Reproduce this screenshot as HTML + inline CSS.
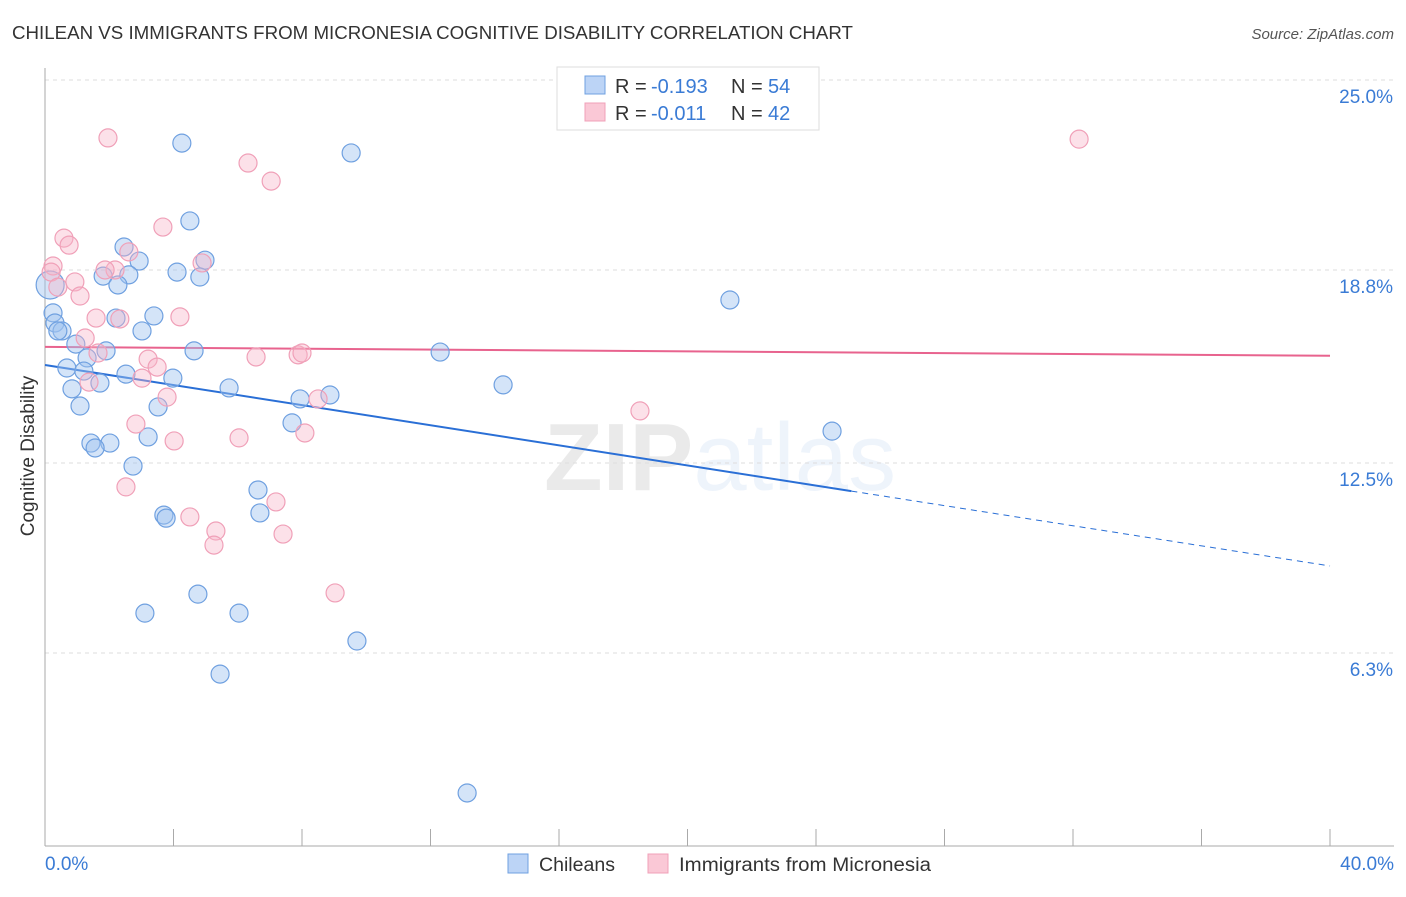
<!DOCTYPE html>
<html><head><meta charset="utf-8"><style>
body{margin:0;background:#fff;font-family:"Liberation Sans",sans-serif;}
svg text{font-family:"Liberation Sans",sans-serif;}
</style></head><body>
<svg width="1406" height="892" xmlns="http://www.w3.org/2000/svg">
<text x="12" y="39" font-size="18" fill="#333" textLength="841" lengthAdjust="spacingAndGlyphs">CHILEAN VS IMMIGRANTS FROM MICRONESIA COGNITIVE DISABILITY CORRELATION CHART</text>
<text x="1394" y="39" font-size="15" fill="#555" text-anchor="end" font-style="italic">Source: ZipAtlas.com</text>
<text x="720" y="490" font-size="96" fill="#000" opacity="0.08" text-anchor="middle" font-weight="bold">ZIP<tspan font-weight="normal" fill="#3a7bd5">atlas</tspan></text>
<g id="grid"></g>
<g id="axes"></g>
<g id="trend"></g>
<g id="points"></g>
<text x="34" y="456" font-size="19" fill="#333" text-anchor="middle" transform="rotate(-90 34 456)">Cognitive Disability</text>
<text x="45" y="870" font-size="19" fill="#3a7bd5">0.0%</text>
<text x="1394" y="870" font-size="19" fill="#3a7bd5" text-anchor="end">40.0%</text>
<g>
<rect x="557" y="67" width="262" height="63" fill="#fff" stroke="#ddd"/>
<rect x="585" y="76" width="20" height="18" fill="#bcd4f6" stroke="#6fa0e0"/>
<rect x="585" y="103" width="20" height="18" fill="#fac8d6" stroke="#f0a0b8"/>
<text y="93" font-size="20" fill="#333"><tspan x="615">R =</tspan><tspan x="651" fill="#3a7bd5">-0.193</tspan><tspan x="731">N =</tspan><tspan x="768" fill="#3a7bd5">54</tspan></text>
<text y="120" font-size="20" fill="#333"><tspan x="615">R =</tspan><tspan x="651" fill="#3a7bd5">-0.011</tspan><tspan x="731">N =</tspan><tspan x="768" fill="#3a7bd5">42</tspan></text>
</g>
<g>
<rect x="508" y="854" width="20" height="19" fill="#bcd4f6" stroke="#6fa0e0"/>
<text x="539" y="871" font-size="19" fill="#333" textLength="76" lengthAdjust="spacingAndGlyphs">Chileans</text>
<rect x="648" y="854" width="20" height="19" fill="#fac8d6" stroke="#f0a0b8"/>
<text x="679" y="871" font-size="19" fill="#333" textLength="252" lengthAdjust="spacingAndGlyphs">Immigrants from Micronesia</text>
</g>
</svg>
<script>
const yTicks=[25.0,18.8,12.5,6.3];
const yTickLabels=["25.0%","18.8%","12.5%","6.3%"];
const xTicks=[0,4,8,12,16,20,24,28,32,36,40];
const blueX=[4.26,9.53,4.51,2.46,2.93,4.98,4.11,4.82,1.81,2.61,2.27,0.16,0.25,0.31,0.53,0.40,0.96,1.90,4.64,12.30,21.32,3.39,2.21,3.02,1.31,0.68,1.21,2.52,3.98,1.71,0.84,5.73,14.26,7.94,8.87,1.09,3.52,7.69,3.21,24.50,1.43,2.02,1.56,2.74,6.63,3.70,3.77,6.69,4.76,3.11,6.04,9.71,5.45,13.14];
const blueY=[22.94,22.62,20.40,19.55,19.09,19.12,18.73,18.57,18.60,18.64,18.31,18.31,17.40,17.07,16.81,16.81,16.38,16.16,16.16,16.12,17.82,17.30,17.23,16.81,15.93,15.60,15.50,15.40,15.27,15.11,14.92,14.95,15.05,14.59,14.72,14.36,14.33,13.81,13.35,13.54,13.15,13.15,12.99,12.40,11.62,10.80,10.70,10.87,8.22,7.60,7.60,6.69,5.61,1.73];
const pinkX=[1.96,32.19,6.32,7.04,3.67,0.59,0.75,2.61,0.25,0.19,2.18,1.87,0.93,0.40,1.09,4.89,1.59,4.20,2.33,1.25,1.65,3.21,6.57,7.88,8.00,3.49,3.02,1.37,3.80,8.50,18.52,2.83,4.02,6.04,8.09,2.52,7.19,4.51,5.32,5.26,7.41,9.03];
const pinkY=[23.11,23.07,22.29,21.70,20.20,19.84,19.61,19.39,18.93,18.73,18.80,18.80,18.41,18.24,17.95,19.03,17.23,17.27,17.20,16.58,16.09,15.89,15.96,16.03,16.09,15.63,15.27,15.14,14.65,14.59,14.20,13.77,13.22,13.32,13.48,11.72,11.23,10.74,10.28,9.82,10.18,8.26];
const blueTrend=[15.70,9.14], blueSolidEnd=25.1;
const pinkTrend=[16.29,16.00];
const NS="http://www.w3.org/2000/svg";
const xs=v=>45+v*32.125, ys=v=>80+(25-v)*30.64;
function mk(t,a,p){const e=document.createElementNS(NS,t);for(const k in a)e.setAttribute(k,a[k]);p.appendChild(e);return e;}
const grid=document.getElementById('grid'),axes=document.getElementById('axes');
yTicks.forEach((v,i)=>{
 const l=mk('line',{x1:45,x2:1394,y1:ys(v),y2:ys(v),stroke:'#ddd','stroke-dasharray':'4,4'},grid);
 
 
 const t=mk('text',{x:1393,y:ys(v)+23,'font-size':19,fill:'#3a7bd5','text-anchor':'end'},grid);
 t.textContent=yTickLabels[i];
 
 
});
const ya=mk('line',{x1:45,x2:45,y1:68,y2:846,stroke:'#aaa'},axes);


const xa=mk('line',{x1:45,x2:1394,y1:846,y2:846,stroke:'#aaa'},axes);


xTicks.forEach(v=>{
 const t=mk('line',{x1:xs(v),x2:xs(v),y1:829,y2:846,stroke:'#aaa'},axes);
 
 
});
const pts=document.getElementById('points');
function dots(X,Y,fill,stroke,name){X.forEach((x,i)=>{
 const c=mk('circle',{cx:xs(x),cy:ys(Y[i]),r:(name==='chilean-point'&&i===11)?14:9,fill:fill,stroke:stroke,'stroke-width':1.2},pts);
 
 
});}
dots(blueX,blueY,'rgba(160,195,240,0.45)','#6fa0e0','chilean-point');
dots(pinkX,pinkY,'rgba(248,180,200,0.4)','#f0a0b8','micronesia-point');
const tr=document.getElementById('trend');
const by=x=>blueTrend[0]+(blueTrend[1]-blueTrend[0])*x/40;
let l1=mk('line',{x1:xs(0),y1:ys(by(0)),x2:xs(blueSolidEnd),y2:ys(by(blueSolidEnd)),stroke:'#2a6fd6','stroke-width':2},tr);


let l2=mk('line',{x1:xs(blueSolidEnd),y1:ys(by(blueSolidEnd)),x2:xs(40),y2:ys(by(40)),stroke:'#2a6fd6','stroke-width':1,'stroke-dasharray':'6,5'},tr);


let l3=mk('line',{x1:xs(0),y1:ys(pinkTrend[0]),x2:xs(40),y2:ys(pinkTrend[1]),stroke:'#e8638e','stroke-width':2},tr);


</script>
</body></html>
